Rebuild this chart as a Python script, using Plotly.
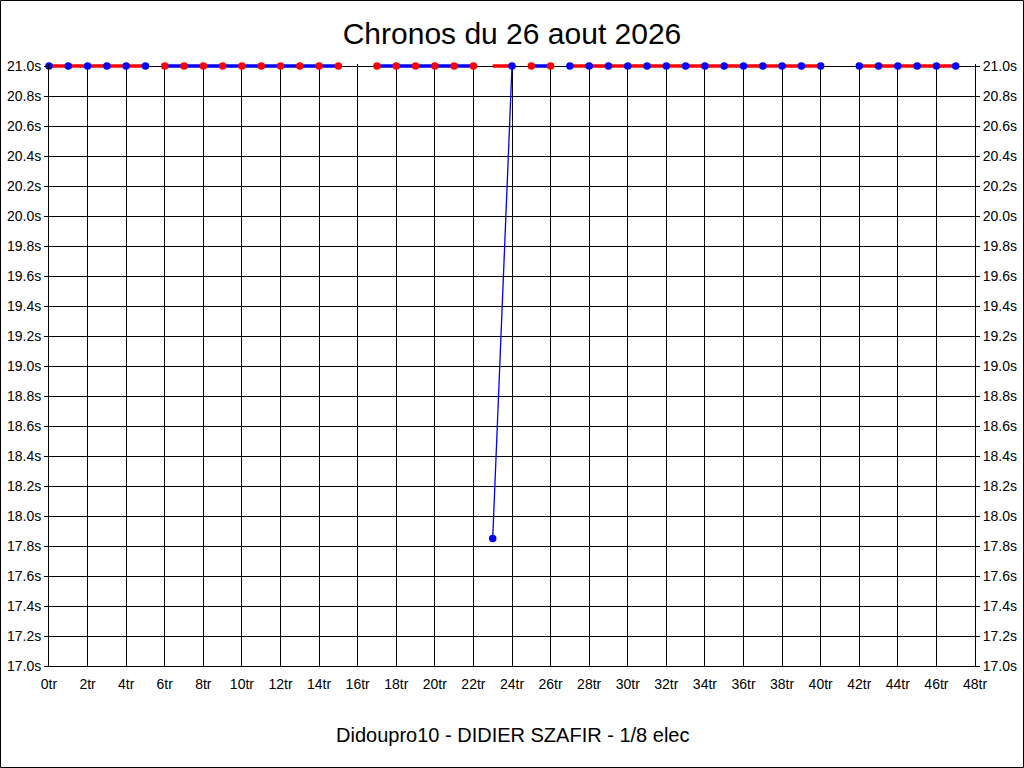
"""
Chronos du 26 aout 2026 - tours de piste
"""
import plotly.graph_objects as go

# tours et chronos (None = tour absent)
tours = list(range(48))
chronos = [21.0] * 48
chronos[16] = None
chronos[41] = None
chronos[23] = 17.85

# valeurs du trait épais (plafonné à 21.0s)
trait = [None if c is None else 21.0 for c in chronos]

# groupes de tours consécutifs : (premier, dernier, couleur du trait)
groupes = [
    (0, 5, 'red'),
    (6, 15, 'blue'),
    (17, 22, 'blue'),
    (23, 24, 'red'),
    (25, 26, 'blue'),
    (27, 40, 'red'),
    (42, 47, 'red'),
]

titre = "Chronos du 26 aout 2026"
pilote = "Didoupro10 - DIDIER SZAFIR - 1/8 elec"

W, H = 1024, 768
L, R, T, B = 49, 49, 64, 102

fig = go.Figure()

for debut, fin, couleur in groupes:
    xs = tours[debut:fin + 1]
    autre = 'blue' if couleur == 'red' else 'red'
    # trait fin des chronos réels
    fig.add_trace(go.Scatter(x=xs, y=chronos[debut:fin + 1], mode='lines',
                             line=dict(color='blue', width=1.3), showlegend=False))
    # trait épais
    fig.add_trace(go.Scatter(x=xs, y=trait[debut:fin + 1], mode='lines',
                             line=dict(color=couleur, width=3.5), showlegend=False))
    # points
    fig.add_trace(go.Scatter(x=xs, y=chronos[debut:fin + 1], mode='markers',
                             marker=dict(color=autre, size=7.5), cliponaxis=False,
                             showlegend=False))

# axe de droite (mêmes graduations)
fig.add_trace(go.Scatter(x=[0], y=[None], yaxis='y2', showlegend=False,
                         hoverinfo='skip'))

police = dict(family='Liberation Sans, Arial, sans-serif', color='black')
haut = 21.0 + 2 / 150  # un peu de place pour le trait épais
axe_y = dict(range=[17.0, haut], dtick=0.2, tick0=17.0, tickformat='.1f',
             ticksuffix='s', showgrid=True, gridcolor='black', gridwidth=1,
             showline=True, linecolor='black', linewidth=1, ticks='outside',
             ticklen=4, tickcolor='black', zeroline=False, automargin=False,
             tickfont=dict(size=14, **police))

fig.update_layout(
    width=W, height=H,
    margin=dict(l=L, r=R, t=T, b=B),
    paper_bgcolor='white', plot_bgcolor='white',
    title=dict(text=titre, x=0.5, xanchor='center', y=1 - 33 / H, yanchor='middle',
               font=dict(size=30, **police)),
    xaxis=dict(range=[0, 48], dtick=2, tick0=0, ticksuffix='tr',
               showgrid=True, gridcolor='black', gridwidth=1,
               showline=True, linecolor='black', linewidth=1, mirror=False,
               ticks='', ticklabelstandoff=5, zeroline=False, automargin=False,
               tickfont=dict(size=14, **police)),
    yaxis=axe_y,
    yaxis2=dict(axe_y, overlaying='y', side='right', matches='y', showgrid=False),
    annotations=[dict(text=pilote, xref='paper', yref='paper', x=0.5,
                      y=-(735 - (H - B)) / (H - T - B), xanchor='center',
                      yanchor='middle', showarrow=False,
                      font=dict(size=20, **police))],
)

# cadre noir autour de l'image
pw, ph = W - L - R, H - T - B
fig.add_shape(type='rect', xref='paper', yref='paper',
              x0=-(L - 0.5) / pw, x1=(pw + R - 0.5) / pw,
              y0=-(B - 0.5) / ph, y1=(ph + T - 0.5) / ph,
              line=dict(color='black', width=1), layer='below')

fig.write_html("out.html", config={'displayModeBar': False},
               post_script="document.body.style.margin='0';")
